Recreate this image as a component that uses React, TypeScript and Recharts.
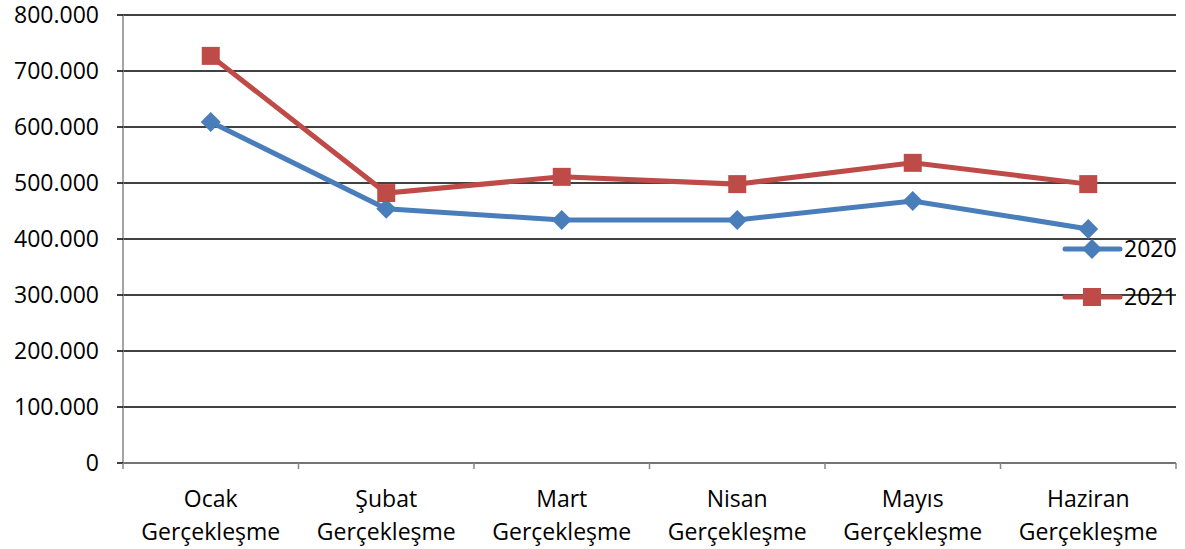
import React from 'react';
import { LineChart, Line, XAxis, YAxis, CartesianGrid } from 'recharts';

const categories = ['Ocak Gerçekleşme', 'Şubat Gerçekleşme', 'Mart Gerçekleşme', 'Nisan Gerçekleşme', 'Mayıs Gerçekleşme', 'Haziran Gerçekleşme'];
const series2020 = [609000, 454000, 434000, 434000, 468000, 418000];
const series2021 = [727000, 482000, 511000, 498000, 536000, 498000];
const seriesNames = ['2020', '2021'];
const yTicks = [0, 100000, 200000, 300000, 400000, 500000, 600000, 700000, 800000];

const data = categories.map((c, i) => ({ name: c, s2020: series2020[i], s2021: series2021[i] }));

const W = 1185;
const H = 549;
const XH = 86;
const M = { top: 15, right: 9, bottom: 0, left: 0 };
const YW = 123;
const BAND = (W - M.right - YW) / categories.length;
const FONT = '"Open Sans", sans-serif';
const FS = 23;
const BLUE = '#4A7EBB';
const RED = '#BE4B48';

const fmt = (v: number) => (v === 0 ? '0' : v.toLocaleString('de-DE'));

const Diamond = (props: any) => {
  const { cx, cy } = props;
  if (cx == null || cy == null) return null;
  const r = 10;
  return <polygon points={`${cx},${cy - r} ${cx + r},${cy} ${cx},${cy + r} ${cx - r},${cy}`} fill={BLUE} />;
};
const Square = (props: any) => {
  const { cx, cy } = props;
  if (cx == null || cy == null) return null;
  const s = 18;
  return <rect x={cx - s / 2} y={cy - s / 2} width={s} height={s} fill={RED} />;
};

const XTick = (props: any) => {
  const { x, y, payload, index } = props;
  const parts = String(payload.value).split(' ');
  const half = BAND / 2;
  return (
    <g>
      <line x1={x - half} y1={y} x2={x - half} y2={y + 6} stroke="#868686" strokeWidth={1.5} />
      {index === categories.length - 1 && (
        <line x1={x + half} y1={y} x2={x + half} y2={y + 6} stroke="#868686" strokeWidth={1.5} />
      )}
      <text x={x} y={y + 44} textAnchor="middle" fontFamily={FONT} fontSize={FS} fill="#000">{parts[0]}</text>
      <text x={x} y={y + 77} textAnchor="middle" fontFamily={FONT} fontSize={FS} fill="#000">{parts[1]}</text>
    </g>
  );
};

const LegendBox = () => (
  <div style={{ position: 'absolute', left: 1053, top: 232, width: 132, height: 103 }}>
    <svg width={132} height={103} style={{ position: 'absolute', left: 0, top: 0 }}>
      <line x1={12} y1={17} x2={67} y2={17} stroke={BLUE} strokeWidth={5} strokeLinecap="round" />
      <Diamond cx={39} cy={17} />
      <text x={71} y={25} fontFamily={FONT} fontSize={FS} fill="#000">{seriesNames[0]}</text>
      <line x1={12} y1={65} x2={67} y2={65} stroke={RED} strokeWidth={5} strokeLinecap="round" />
      <Square cx={39} cy={65} />
      <text x={71} y={73} fontFamily={FONT} fontSize={FS} fill="#000">{seriesNames[1]}</text>
    </svg>
  </div>
);

export default function App() {
  return (
    <div style={{ position: 'absolute', left: 0, top: 0, width: W, height: H, background: '#fff' }}>
      <LineChart width={W} height={H} data={data} margin={M}>
        <CartesianGrid horizontal vertical={false} stroke="#000" strokeWidth={1.5} />
        <XAxis
          dataKey="name"
          scale="band"
          interval={0}
          tick={<XTick />}
          tickLine={false}
          tickSize={0}
          tickMargin={0}
          axisLine={{ stroke: '#868686', strokeWidth: 1.5 }}
          height={XH}
        />
        <YAxis
          width={YW}
          domain={[0, 800000]}
          ticks={yTicks}
          interval={0}
          tickFormatter={fmt}
          tick={{ fontFamily: FONT, fontSize: FS, fill: '#000' }}
          tickLine={{ stroke: '#000', strokeWidth: 1.5 }}
          tickSize={6}
          tickMargin={18}
          axisLine={{ stroke: '#868686', strokeWidth: 1.5 }}
        />
        <Line dataKey="s2020" name={seriesNames[0]} stroke={BLUE} strokeWidth={5} dot={<Diamond />} activeDot={false} isAnimationActive={false} />
        <Line dataKey="s2021" name={seriesNames[1]} stroke={RED} strokeWidth={5} dot={<Square />} activeDot={false} isAnimationActive={false} />
      </LineChart>
      <LegendBox />
    </div>
  );
}
